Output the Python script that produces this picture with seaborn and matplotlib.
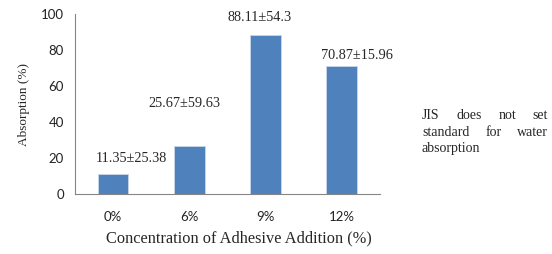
import matplotlib
matplotlib.use("Agg")
import matplotlib.pyplot as plt
import seaborn as sns
import pandas as pd

# data
concentration = ["0%", "6%", "9%", "12%"]
absorption = [11.35, 26.5, 88.11, 70.87]
labels = ["11.35±25.38", "25.67±59.63", "88.11±54.3", "70.87±15.96"]
# label anchors (category offset, y) as seen in the picture
label_dx = [0.24, -0.07, -0.08, 0.2]
label_y = [20, 50.5, 98, 76.7]
note_lines = [["JIS", "does", "not", "set"], ["standard", "for", "water"], ["absorption"]]

df = pd.DataFrame({"conc": concentration, "abs": absorption})

sns.set_style("white")
fig = plt.figure(figsize=(5.52, 2.54), dpi=100)
ax = fig.add_axes([0.136, 0.236, 0.552, 0.709])

sns.barplot(data=df, x="conc", y="abs", color="#4F81BD", saturation=1,
            width=0.4, edgecolor="#c9d6ea", linewidth=0.6, ax=ax)

ax.set_ylim(0, 100)
ax.set_xlim(-0.5, 3.5)
ax.set_yticks([0, 20, 40, 60, 80, 100])
ax.set_xticks([-0.5, 0.5, 1.5, 2.5, 3.5], minor=True)
ax.tick_params(axis="x", which="major", length=0, pad=12)
ax.tick_params(axis="x", which="minor", length=4, color="#868686", direction="out")
ax.tick_params(axis="y", length=4, color="#868686", direction="out", pad=4)
ax.tick_params(labelsize=9.5, labelcolor="#222222")
for t in ax.get_xticklabels() + ax.get_yticklabels():
    t.set_family("Lato")

for s in ["top", "right"]:
    ax.spines[s].set_visible(False)
for s in ["left", "bottom"]:
    ax.spines[s].set_color("#868686")
    ax.spines[s].set_linewidth(0.8)

for i, lab in enumerate(labels):
    ax.text(i + label_dx[i], label_y[i], lab, ha="center", va="center",
            family="Liberation Serif", fontsize=10.3)

ax.set_xlabel("Concentration of Adhesive Addition (%)", family="Liberation Serif",
              fontsize=11.8)
ax.xaxis.set_label_coords(0.538, -0.2)
ax.set_ylabel("Absorption (%)", family="Liberation Serif", fontsize=9.5, labelpad=8)

# justified note on the right
fig.canvas.draw()
r = fig.canvas.get_renderer()
left, right = 422 / 552, 548 / 552
ys = [0.545, 0.48, 0.415]
for words, y in zip(note_lines, ys):
    txts = [fig.text(0, y, w, family="Liberation Serif", fontsize=10, va="center") for w in words]
    if len(words) == 1:
        txts[0].set_x(left)
        continue
    widths = [t.get_window_extent(r).width / fig.bbox.width for t in txts]
    gap = (right - left - sum(widths)) / (len(words) - 1)
    x = left
    for t, w in zip(txts, widths):
        t.set_x(x)
        x += w + gap

fig.savefig("out.png", dpi=100)
